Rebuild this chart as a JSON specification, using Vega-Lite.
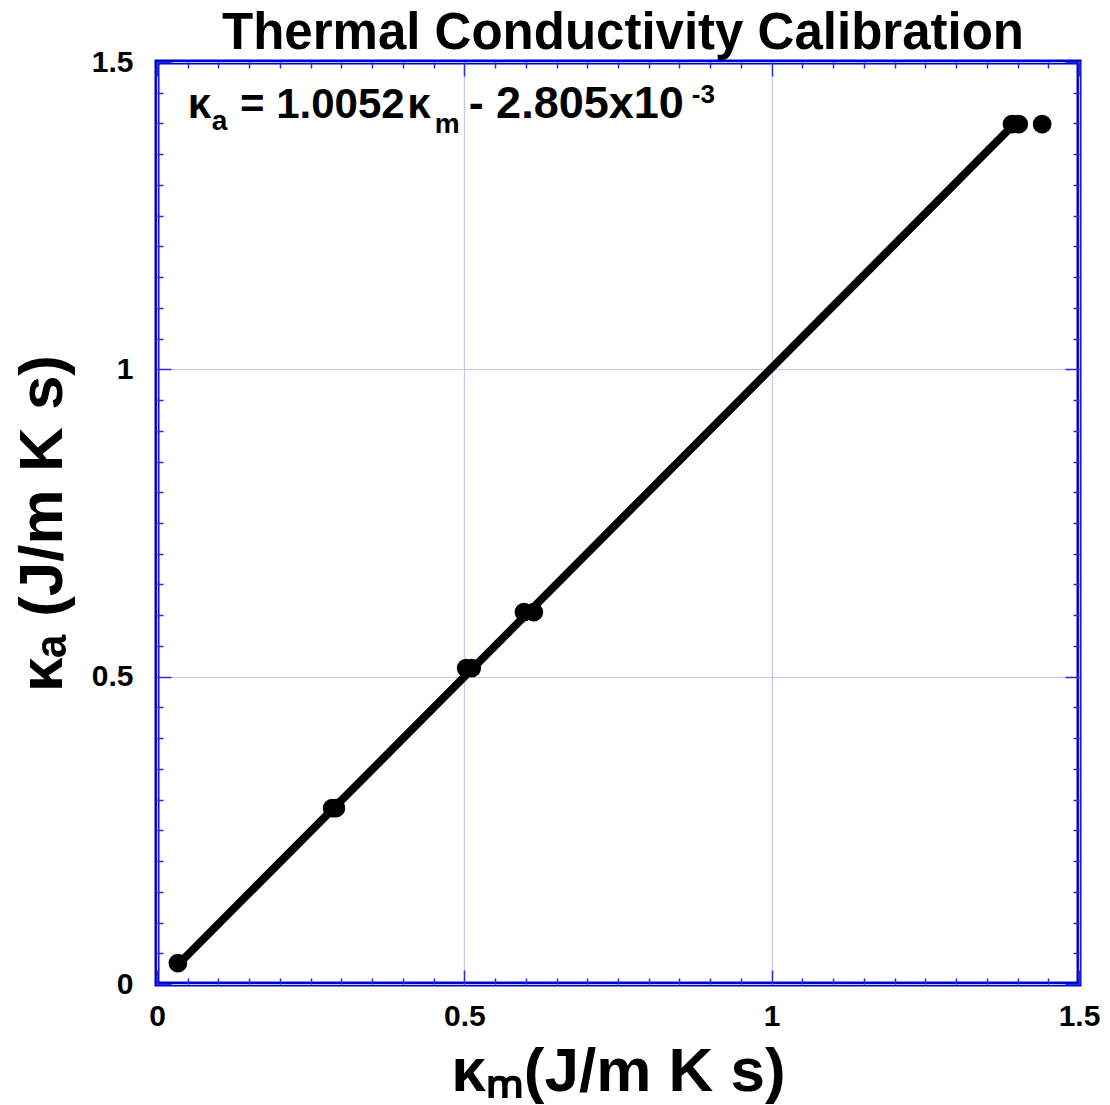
{
  "$schema": "https://vega.github.io/schema/vega-lite/v6.json",
  "width": 922,
  "height": 922,
  "autosize": {"type": "none"},
  "padding": {"left": 157, "top": 62, "right": 31, "bottom": 121},
  "background": "white",
  "title": {
    "text": "Thermal Conductivity Calibration",
    "font": "Liberation Sans",
    "fontWeight": "bold",
    "fontSize": 51,
    "color": "black",
    "anchor": "middle",
    "frame": "group",
    "baseline": "alphabetic",
    "offset": 12,
    "dx": 5,
    "dy": 65
  },
  "config": {
    "view": {"stroke": "#0000cc", "strokeWidth": 5},
    "axis": {
      "domain": false,
      "labelFont": "Liberation Sans",
      "labelFontWeight": "bold",
      "labelFontSize": 30,
      "labelColor": "black",
      "titleFont": "Liberation Sans",
      "titleFontWeight": "bold",
      "titleFontSize": 62,
      "titleColor": "black",
      "tickColor": "#2a2ad8",
      "tickWidth": 1.5,
      "gridColor": "#c4c4f0",
      "gridWidth": 1.2
    }
  },
  "resolve": {"axis": {"x": "independent", "y": "independent"}},
  "layer": [
    {
      "data": {
        "values": [
          {"km": 0.034, "ka": 0.034},
          {"km": 0.285, "ka": 0.286},
          {"km": 0.291, "ka": 0.286},
          {"km": 0.503, "ka": 0.514},
          {"km": 0.512, "ka": 0.514},
          {"km": 0.597, "ka": 0.605},
          {"km": 0.613, "ka": 0.605},
          {"km": 1.391, "ka": 1.399},
          {"km": 1.402, "ka": 1.399},
          {"km": 1.44, "ka": 1.399}
        ]
      },
      "mark": {"type": "circle", "size": 350, "color": "black", "opacity": 1},
      "encoding": {
        "x": {
          "field": "km",
          "type": "quantitative",
          "scale": {"domain": [0, 1.5], "nice": false, "zero": false},
          "axis": {
            "orient": "bottom",
            "title": "κₘ(J/m K s)",
            "titlePadding": 2,
            "values": [0, 0.05, 0.1, 0.15, 0.2, 0.25, 0.3, 0.35, 0.4, 0.45, 0.5, 0.55, 0.6, 0.65, 0.7, 0.75, 0.8, 0.85, 0.9, 0.95, 1, 1.05, 1.1, 1.15, 1.2, 1.25, 1.3, 1.35, 1.4, 1.45, 1.5],
            "format": "~g",
            "labelExpr": "abs(datum.value*2-round(datum.value*2))<0.001 ? datum.label : ''",
            "labelOverlap": false,
            "labelFlush": false,
            "labelPadding": 31,
            "grid": true,
            "gridOpacity": {"condition": {"test": "abs(datum.value*2-round(datum.value*2))<0.001", "value": 1}, "value": 0},
            "tickSize": {"condition": {"test": "abs(datum.value*2-round(datum.value*2))<0.001", "value": -14}, "value": -6}
          }
        },
        "y": {
          "field": "ka",
          "type": "quantitative",
          "scale": {"domain": [0, 1.5], "nice": false, "zero": false},
          "axis": {
            "orient": "left",
            "title": "κₐ (J/m K s)",
            "titlePadding": 17,
            "values": [0, 0.05, 0.1, 0.15, 0.2, 0.25, 0.3, 0.35, 0.4, 0.45, 0.5, 0.55, 0.6, 0.65, 0.7, 0.75, 0.8, 0.85, 0.9, 0.95, 1, 1.05, 1.1, 1.15, 1.2, 1.25, 1.3, 1.35, 1.4, 1.45, 1.5],
            "format": "~g",
            "labelExpr": "abs(datum.value*2-round(datum.value*2))<0.001 ? datum.label : ''",
            "labelOverlap": false,
            "labelFlush": false,
            "labelPadding": 38,
            "grid": true,
            "gridOpacity": {"condition": {"test": "abs(datum.value*2-round(datum.value*2))<0.001", "value": 1}, "value": 0},
            "tickSize": {"condition": {"test": "abs(datum.value*2-round(datum.value*2))<0.001", "value": -14}, "value": -6}
          }
        }
      }
    },
    {
      "data": {
        "values": [
          {"km": 0.034, "ka": 0.0314},
          {"km": 1.391, "ka": 1.3954}
        ]
      },
      "mark": {"type": "line", "color": "black", "strokeWidth": 8},
      "encoding": {
        "x": {
          "field": "km",
          "type": "quantitative",
          "scale": {"domain": [0, 1.5], "nice": false, "zero": false},
          "axis": {
            "orient": "top",
            "title": null,
            "labels": false,
            "grid": false,
            "values": [0, 0.05, 0.1, 0.15, 0.2, 0.25, 0.3, 0.35, 0.4, 0.45, 0.5, 0.55, 0.6, 0.65, 0.7, 0.75, 0.8, 0.85, 0.9, 0.95, 1, 1.05, 1.1, 1.15, 1.2, 1.25, 1.3, 1.35, 1.4, 1.45, 1.5],
            "tickSize": {"condition": {"test": "abs(datum.value*2-round(datum.value*2))<0.001", "value": -14}, "value": -6}
          }
        },
        "y": {
          "field": "ka",
          "type": "quantitative",
          "scale": {"domain": [0, 1.5], "nice": false, "zero": false},
          "axis": {
            "orient": "right",
            "title": null,
            "labels": false,
            "grid": false,
            "values": [0, 0.05, 0.1, 0.15, 0.2, 0.25, 0.3, 0.35, 0.4, 0.45, 0.5, 0.55, 0.6, 0.65, 0.7, 0.75, 0.8, 0.85, 0.9, 0.95, 1, 1.05, 1.1, 1.15, 1.2, 1.25, 1.3, 1.35, 1.4, 1.45, 1.5],
            "tickSize": {"condition": {"test": "abs(datum.value*2-round(datum.value*2))<0.001", "value": -14}, "value": -6}
          }
        }
      }
    },
    {
      "data": {"values": [{"t": "κ"}]},
      "mark": {"type": "text", "align": "left", "baseline": "alphabetic", "font": "Liberation Sans", "fontWeight": "bold", "fontSize": 42, "color": "black"},
      "encoding": {
        "x": {"datum": 0.05, "type": "quantitative", "axis": null},
        "y": {"datum": 1.409, "type": "quantitative", "axis": null},
        "text": {"field": "t"}
      }
    },
    {
      "data": {"values": [{"t": "a"}]},
      "mark": {"type": "text", "align": "left", "baseline": "alphabetic", "font": "Liberation Sans", "fontWeight": "bold", "fontSize": 28, "color": "black"},
      "encoding": {
        "x": {"datum": 0.089, "type": "quantitative", "axis": null},
        "y": {"datum": 1.389, "type": "quantitative", "axis": null},
        "text": {"field": "t"}
      }
    },
    {
      "data": {"values": [{"t": "= 1.0052"}]},
      "mark": {"type": "text", "align": "left", "baseline": "alphabetic", "font": "Liberation Sans", "fontWeight": "bold", "fontSize": 42, "color": "black"},
      "encoding": {
        "x": {"datum": 0.135, "type": "quantitative", "axis": null},
        "y": {"datum": 1.409, "type": "quantitative", "axis": null},
        "text": {"field": "t"}
      }
    },
    {
      "data": {"values": [{"t": "κ"}]},
      "mark": {"type": "text", "align": "left", "baseline": "alphabetic", "font": "Liberation Sans", "fontWeight": "bold", "fontSize": 42, "color": "black"},
      "encoding": {
        "x": {"datum": 0.407, "type": "quantitative", "axis": null},
        "y": {"datum": 1.409, "type": "quantitative", "axis": null},
        "text": {"field": "t"}
      }
    },
    {
      "data": {"values": [{"t": "m"}]},
      "mark": {"type": "text", "align": "left", "baseline": "alphabetic", "font": "Liberation Sans", "fontWeight": "bold", "fontSize": 28, "color": "black"},
      "encoding": {
        "x": {"datum": 0.452, "type": "quantitative", "axis": null},
        "y": {"datum": 1.384, "type": "quantitative", "axis": null},
        "text": {"field": "t"}
      }
    },
    {
      "data": {"values": [{"t": "- 2.805x10"}]},
      "mark": {"type": "text", "align": "left", "baseline": "alphabetic", "font": "Liberation Sans", "fontWeight": "bold", "fontSize": 45, "color": "black"},
      "encoding": {
        "x": {"datum": 0.507, "type": "quantitative", "axis": null},
        "y": {"datum": 1.409, "type": "quantitative", "axis": null},
        "text": {"field": "t"}
      }
    },
    {
      "data": {"values": [{"t": "-3"}]},
      "mark": {"type": "text", "align": "left", "baseline": "alphabetic", "font": "Liberation Sans", "fontWeight": "bold", "fontSize": 26, "color": "black"},
      "encoding": {
        "x": {"datum": 0.87, "type": "quantitative", "axis": null},
        "y": {"datum": 1.433, "type": "quantitative", "axis": null},
        "text": {"field": "t"}
      }
    }
  ]
}
